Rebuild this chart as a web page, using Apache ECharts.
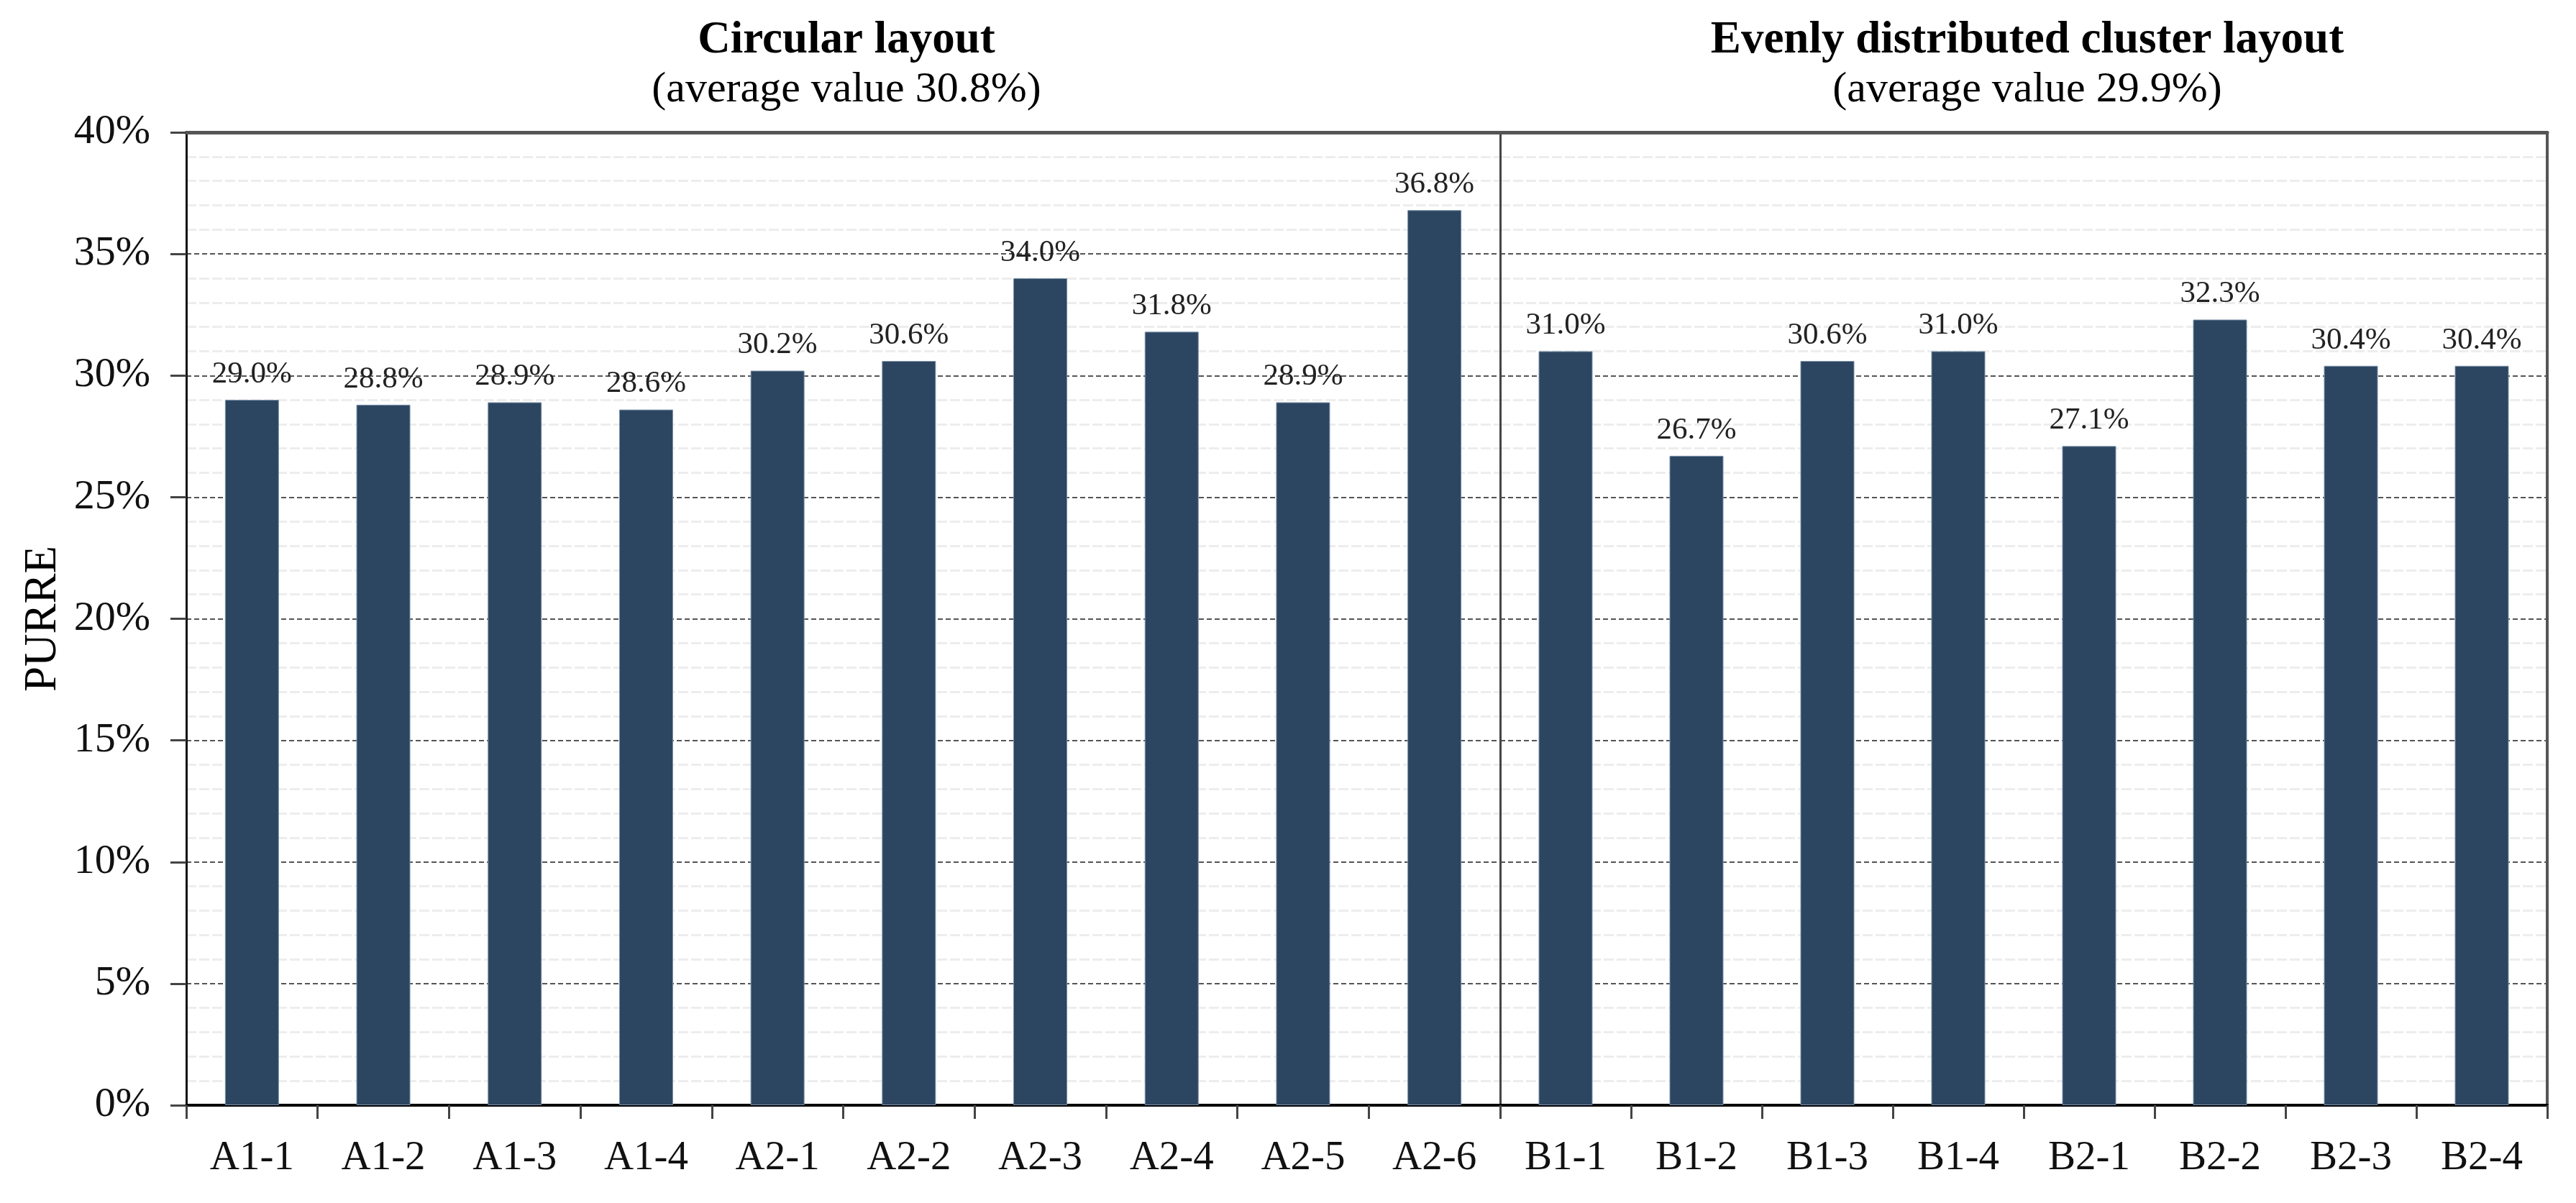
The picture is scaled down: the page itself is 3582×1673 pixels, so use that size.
<!DOCTYPE html>
<html>
<head>
<meta charset="utf-8">
<script src="https://cdn.jsdelivr.net/npm/echarts@6/dist/echarts.min.js"></script>
<style>
html,body{margin:0;padding:0;background:#fff;}
#chart{width:3582px;height:1673px;}
</style>
</head>
<body>
<div id="chart"></div>
<script>
// ---- data ----
const catsA = ['A1-1','A1-2','A1-3','A1-4','A2-1','A2-2','A2-3','A2-4','A2-5','A2-6'];
const valsA = [29.0, 28.8, 28.9, 28.6, 30.2, 30.6, 34.0, 31.8, 28.9, 36.8];
const catsB = ['B1-1','B1-2','B1-3','B1-4','B2-1','B2-2','B2-3','B2-4'];
const valsB = [31.0, 26.7, 30.6, 31.0, 27.1, 32.3, 30.4, 30.4];
const titleA = 'Circular layout';
const subA = '(average value 30.8%)';
const titleB = 'Evenly distributed cluster layout';
const subB = '(average value 29.9%)';
const yName = 'PURRE';
const yMin = 0, yMax = 40, yStep = 5;

// ---- chart ----
const FONT = "'Liberation Serif','Times New Roman',serif";
const BAR = '#2c4661';
const chart = echarts.init(document.getElementById('chart'), null, {renderer:'canvas'});

const gridTop = 184, gridBottom = 136;
const splitMajor = {show:true, lineStyle:{color:'#555', width:2, type:[7,4]}};
const splitMinor = {show:true, lineStyle:{color:'#ededed', width:3, type:[14,4]}};

function bottomX(cats, gi){
  return {
    type:'category', gridIndex:gi, data:cats, position:'bottom', boundaryGap:true,
    axisLine:{show:true, onZero:false, lineStyle:{color:'#000', width:4}},
    axisTick:{show:true, length:19, lineStyle:{color:'#444', width:3}},
    axisLabel:{fontFamily:FONT, fontSize:57, color:'#111', margin:46, interval:0},
    splitLine:{show:false}
  };
}
function topX(cats, gi){
  return {
    type:'category', gridIndex:gi, data:cats, position:'top',
    axisLine:{show:true, onZero:false, lineStyle:{color:'#555', width:5}},
    axisTick:{show:false}, axisLabel:{show:false}, splitLine:{show:false}
  };
}
function labelCfg(){
  return {
    show:true, position:'top', distance:14,
    fontFamily:FONT, fontSize:43, color:'#222',
    formatter:p => p.value.toFixed(1) + '%'
  };
}

chart.setOption({
  backgroundColor:'#fff',
  animation:false,
  title:[
    {text:titleA, subtext:subA, left:1172, top:20, textAlign:'center', itemGap:7,
     textStyle:{fontFamily:FONT, fontSize:63, fontWeight:'bold', color:'#000'},
     subtextStyle:{fontFamily:FONT, fontSize:60, color:'#000'}},
    {text:titleB, subtext:subB, left:2814, top:20, textAlign:'center', itemGap:7,
     textStyle:{fontFamily:FONT, fontSize:63, fontWeight:'bold', color:'#000'},
     subtextStyle:{fontFamily:FONT, fontSize:60, color:'#000'}}
  ],
  grid:[
    {left:259, right:1496, top:gridTop, bottom:gridBottom, containLabel:false},
    {left:2086, right:40, top:gridTop, bottom:gridBottom, containLabel:false}
  ],
  xAxis:[bottomX(catsA,0), bottomX(catsB,1), topX(catsA,0), topX(catsB,1)],
  yAxis:[
    {type:'value', gridIndex:0, min:yMin, max:yMax, interval:yStep, position:'left',
     name:yName, nameLocation:'middle', nameGap:159, nameRotate:90,
     nameTextStyle:{fontFamily:FONT, fontSize:63, color:'#000'},
     axisLine:{show:true, lineStyle:{color:'#111', width:3}},
     axisTick:{show:true, length:22, lineStyle:{color:'#444', width:3}},
     axisLabel:{fontFamily:FONT, fontSize:58, color:'#111', margin:50, formatter:'{value}%'},
     splitLine:splitMajor, minorTick:{show:false, splitNumber:5}, minorSplitLine:splitMinor},
    {type:'value', gridIndex:1, min:yMin, max:yMax, interval:yStep, position:'left',
     axisLine:{show:true, lineStyle:{color:'#444', width:3}},
     axisTick:{show:false}, axisLabel:{show:false},
     splitLine:splitMajor, minorTick:{show:false, splitNumber:5}, minorSplitLine:splitMinor},
    {type:'value', gridIndex:1, min:yMin, max:yMax, interval:yStep, position:'right',
     axisLine:{show:true, lineStyle:{color:'#555', width:4}},
     axisTick:{show:false}, axisLabel:{show:false}, splitLine:{show:false}}
  ],
  series:[
    {type:'bar', xAxisIndex:0, yAxisIndex:0, data:valsA, barWidth:75,
     itemStyle:{color:BAR, borderColor:'#7d93ab', borderWidth:1}, label:labelCfg()},
    {type:'bar', xAxisIndex:1, yAxisIndex:1, data:valsB, barWidth:75,
     itemStyle:{color:BAR, borderColor:'#7d93ab', borderWidth:1}, label:labelCfg()}
  ]
});
</script>
</body>
</html>
